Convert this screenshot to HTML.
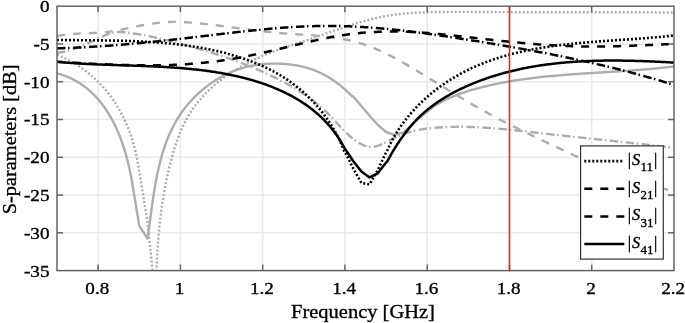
<!DOCTYPE html>
<html><head><meta charset="utf-8"><style>
html,body{margin:0;padding:0;background:#fff;}
svg{display:block;font-family:"Liberation Serif",serif;will-change:transform;}
text{stroke:#000;stroke-width:0.35px;}
</style></head><body>
<svg width="685" height="323" viewBox="0 0 685 323">
<g stroke="#e9e9e9" stroke-width="1.5"><line x1="98.13" y1="6.2" x2="98.13" y2="270.6"/><line x1="180.4" y1="6.2" x2="180.4" y2="270.6"/><line x1="262.67" y1="6.2" x2="262.67" y2="270.6"/><line x1="344.93" y1="6.2" x2="344.93" y2="270.6"/><line x1="427.2" y1="6.2" x2="427.2" y2="270.6"/><line x1="509.47" y1="6.2" x2="509.47" y2="270.6"/><line x1="591.73" y1="6.2" x2="591.73" y2="270.6"/><line x1="57.0" y1="43.97" x2="674.0" y2="43.97"/><line x1="57.0" y1="81.74" x2="674.0" y2="81.74"/><line x1="57.0" y1="119.51" x2="674.0" y2="119.51"/><line x1="57.0" y1="157.29" x2="674.0" y2="157.29"/><line x1="57.0" y1="195.06" x2="674.0" y2="195.06"/><line x1="57.0" y1="232.83" x2="674.0" y2="232.83"/></g><defs><clipPath id="c"><rect x="57.0" y="6.2" width="617.0" height="264.40000000000003"/></clipPath></defs><g clip-path="url(#c)" fill="none" stroke-linejoin="round"><polyline points="57.00,55.00 57.56,55.15 58.27,55.43 58.97,55.71 59.67,56.00 60.36,56.29 61.06,56.59 61.75,56.89 62.44,57.19 63.12,57.50 63.81,57.82 64.49,58.13 65.17,58.46 65.84,58.78 66.51,59.11 67.18,59.44 67.85,59.78 68.52,60.12 69.18,60.47 69.84,60.82 70.50,61.17 71.15,61.53 71.80,61.89 72.45,62.26 73.10,62.63 73.74,63.00 74.38,63.38 75.02,63.76 75.65,64.15 76.29,64.53 76.92,64.93 77.54,65.32 78.17,65.72 78.79,66.13 79.41,66.53 80.02,66.94 80.64,67.36 81.25,67.78 81.85,68.20 82.46,68.62 83.06,69.05 83.66,69.48 84.25,69.92 84.85,70.36 85.44,70.80 86.02,71.25 86.61,71.70 87.19,72.15 87.77,72.61 88.34,73.07 88.92,73.53 89.49,74.00 90.05,74.47 90.62,74.94 91.18,75.42 91.74,75.90 92.29,76.39 92.84,76.87 93.39,77.36 93.94,77.85 94.48,78.35 95.02,78.85 95.56,79.35 96.09,79.86 96.62,80.37 97.15,80.88 97.67,81.39 98.19,81.91 98.71,82.43 99.23,82.96 99.74,83.48 100.25,84.01 100.75,84.55 101.26,85.08 101.76,85.62 102.25,86.16 102.74,86.71 103.23,87.26 103.72,87.81 104.21,88.36 104.69,88.92 105.16,89.47 105.64,90.04 106.11,90.60 106.57,91.17 107.04,91.74 107.50,92.31 107.96,92.88 108.41,93.46 108.86,94.04 109.31,94.63 109.76,95.21 110.20,95.80 110.64,96.39 111.07,96.98 111.50,97.58 111.93,98.18 112.35,98.78 112.78,99.38 113.19,99.99 113.61,100.59 114.02,101.20 114.43,101.82 114.83,102.43 115.23,103.05 115.63,103.67 116.02,104.29 116.42,104.91 116.80,105.54 117.19,106.17 117.57,106.80 117.95,107.43 118.32,108.07 118.69,108.70 119.06,109.34 119.43,109.98 119.79,110.63 120.15,111.27 120.50,111.92 120.85,112.57 121.20,113.22 121.55,113.87 121.89,114.53 122.23,115.18 122.56,115.84 122.90,116.50 123.23,117.16 123.55,117.83 123.87,118.49 124.19,119.16 124.51,119.83 124.82,120.50 125.13,121.17 125.44,121.85 125.74,122.52 126.04,123.20 126.34,123.88 126.63,124.56 126.92,125.24 127.21,125.92 127.49,126.61 127.77,127.29 128.05,127.98 128.33,128.67 128.60,129.36 128.87,130.05 129.13,130.74 129.39,131.44 129.65,132.13 129.91,132.83 130.16,133.53 130.41,134.23 130.65,134.93 130.90,135.63 131.14,136.33 131.37,137.03 131.61,137.74 131.84,138.44 132.06,139.15 132.29,139.86 132.51,140.57 132.73,141.28 132.94,141.99 133.15,142.70 133.36,143.41 133.57,144.12 133.77,144.84 133.97,145.55 134.17,146.27 134.36,146.98 134.55,147.70 134.74,148.42 134.92,149.14 135.10,149.86 135.28,150.58 135.46,151.30 135.63,152.02 135.80,152.74 135.96,153.46 136.13,154.19 136.29,154.91 136.44,155.63 136.60,156.36 136.75,157.08 136.89,157.81 137.04,158.53 137.18,159.26 137.32,159.98 137.46,160.71 137.59,161.44 137.72,162.16 137.85,162.89 137.97,163.62 138.09,164.35 138.21,165.07 138.32,165.80 138.43,166.53 138.54,167.26 138.65,167.99 138.75,168.71 138.85,169.44 138.95,170.17 139.04,170.90 139.30,171.60 147.50,222.00 155.70,300.00 155.73,298.29 155.76,296.58 155.79,294.87 155.82,293.16 155.86,291.45 155.90,289.75 155.94,288.04 155.98,286.34 156.02,284.63 156.06,282.93 156.11,281.23 156.16,279.54 156.21,277.84 156.27,276.14 156.33,274.45 156.39,272.75 156.45,271.06 156.52,269.37 156.58,267.68 156.66,265.99 156.73,264.30 156.81,262.61 156.89,260.93 156.97,259.24 157.06,257.56 157.15,255.88 157.25,254.20 157.35,252.52 157.45,250.84 157.56,249.16 157.67,247.48 157.78,245.81 157.90,244.13 158.02,242.46 158.15,240.79 158.28,239.12 158.41,237.45 158.55,235.78 158.70,234.11 158.85,232.44 159.00,230.78 159.16,229.11 159.32,227.45 159.49,225.79 159.66,224.12 159.84,222.46 160.02,220.80 160.21,219.14 160.41,217.49 160.61,215.83 160.81,214.17 161.02,212.52 161.24,210.86 161.46,209.21 161.69,207.56 161.92,205.91 162.16,204.26 162.40,202.61 162.66,200.96 162.91,199.31 163.18,197.67 163.45,196.02 163.72,194.37 164.01,192.73 164.30,191.09 164.59,189.45 164.90,187.80 165.21,186.16 165.53,184.52 165.85,182.89 166.18,181.25 166.52,179.61 166.87,177.97 167.22,176.34 167.58,174.70 167.95,173.07 168.32,171.44 168.71,169.81 169.10,168.17 169.50,166.54 169.90,164.91 170.32,163.28 170.74,161.66 171.17,160.03 171.61,158.40 172.06,156.78 172.51,155.15 172.98,153.53 173.45,151.91 173.94,150.29 174.43,148.67 174.94,147.06 175.46,145.45 175.99,143.85 176.53,142.25 177.09,140.65 177.66,139.06 178.24,137.48 178.84,135.90 179.45,134.33 180.08,132.77 180.72,131.22 181.38,129.67 182.06,128.14 182.76,126.61 183.47,125.09 184.20,123.58 184.95,122.09 185.72,120.60 186.51,119.13 187.32,117.67 188.15,116.22 189.00,114.78 189.88,113.36 190.77,111.95 191.69,110.55 192.63,109.17 193.59,107.81 194.57,106.45 195.57,105.12 196.59,103.79 197.63,102.48 198.69,101.18 199.77,99.90 200.87,98.63 201.98,97.38 203.11,96.14 204.26,94.91 205.42,93.70 206.60,92.50 207.79,91.32 209.00,90.15 210.23,89.00 211.47,87.86 212.72,86.73 213.98,85.62 215.26,84.52 216.55,83.44 217.85,82.37 219.16,81.31 220.49,80.27 221.82,79.25 223.16,78.24 224.52,77.24 225.88,76.26 227.26,75.29 228.64,74.33 230.03,73.39 231.43,72.46 232.84,71.55 234.26,70.65 235.68,69.77 237.12,68.90 238.56,68.04 240.01,67.20 241.46,66.36 242.92,65.55 244.39,64.74 245.87,63.95 247.35,63.17 248.84,62.40 250.33,61.64 251.83,60.90 253.33,60.17 254.84,59.44 256.35,58.73 257.87,58.03 259.39,57.34 260.92,56.66 262.45,56.00 263.99,55.34 265.53,54.69 267.07,54.05 268.62,53.42 270.17,52.80 271.73,52.19 273.29,51.59 274.85,51.00 276.42,50.42 277.99,49.85 279.56,49.28 281.14,48.73 282.72,48.18 284.30,47.64 285.88,47.11 287.47,46.59 289.06,46.07 290.65,45.55 292.25,45.04 293.84,44.53 295.43,44.01 297.03,43.50 298.62,42.98 300.22,42.46 301.81,41.94 303.41,41.41 305.00,40.87 306.59,40.33 308.18,39.79 309.78,39.25 311.37,38.70 312.96,38.15 314.55,37.59 316.14,37.04 317.73,36.48 319.32,35.92 320.91,35.36 322.50,34.80 324.10,34.24 325.69,33.68 327.28,33.12 328.87,32.56 330.46,32.00 332.06,31.44 333.65,30.89 335.24,30.33 336.84,29.78 338.43,29.24 340.03,28.69 341.63,28.15 343.22,27.61 344.82,27.08 346.42,26.55 348.02,26.03 349.62,25.51 351.23,25.00 352.83,24.50 354.44,24.00 356.04,23.50 357.65,23.02 359.26,22.54 360.87,22.07 362.49,21.61 364.10,21.16 365.72,20.71 367.33,20.27 368.95,19.85 370.57,19.43 372.20,19.03 373.82,18.63 375.45,18.25 377.08,17.87 378.71,17.51 380.35,17.16 381.98,16.83 383.62,16.50 385.26,16.19 386.91,15.89 388.55,15.61 390.20,15.34 391.85,15.08 393.50,14.84 395.16,14.61 396.82,14.39 398.48,14.19 400.14,14.00 401.81,13.82 403.47,13.65 405.14,13.49 406.81,13.34 408.48,13.20 410.15,13.08 411.83,12.96 413.50,12.85 415.18,12.75 416.86,12.65 418.54,12.57 420.22,12.49 421.90,12.42 423.58,12.36 425.26,12.30 426.95,12.25 428.63,12.20 430.31,12.16 432.00,12.12 433.68,12.08 435.36,12.06 437.05,12.03 438.73,12.01 440.42,11.98 442.10,11.97 443.78,11.95 445.47,11.94 447.15,11.92 448.83,11.91 450.52,11.90 452.20,11.90 453.88,11.89 455.56,11.89 457.24,11.89 458.92,11.89 460.61,11.89 462.29,11.89 463.97,11.89 465.65,11.90 467.33,11.90 469.01,11.91 470.69,11.92 472.37,11.93 474.05,11.94 475.73,11.95 477.41,11.96 479.09,11.97 480.77,11.98 482.45,11.99 484.13,12.00 485.81,12.01 487.49,12.03 489.17,12.04 490.85,12.05 492.53,12.06 494.21,12.08 495.89,12.09 497.57,12.10 499.25,12.11 500.93,12.12 502.61,12.13 504.29,12.14 505.97,12.15 507.65,12.16 509.33,12.16 511.01,12.17 512.69,12.18 514.37,12.18 516.05,12.19 517.73,12.20 519.41,12.20 521.09,12.21 522.77,12.21 524.45,12.21 526.13,12.22 527.81,12.22 529.49,12.22 531.17,12.23 532.85,12.23 534.53,12.23 536.21,12.23 537.89,12.23 539.57,12.23 541.25,12.24 542.93,12.24 544.61,12.24 546.29,12.24 547.97,12.24 549.65,12.24 551.33,12.24 553.01,12.24 554.69,12.23 556.37,12.23 558.05,12.23 559.73,12.23 561.41,12.23 563.09,12.23 564.78,12.23 566.46,12.23 568.14,12.23 569.82,12.22 571.50,12.22 573.18,12.22 574.86,12.22 576.54,12.22 578.22,12.22 579.90,12.22 581.58,12.21 583.26,12.21 584.94,12.21 586.62,12.21 588.30,12.21 589.98,12.21 591.66,12.21 593.34,12.21 595.02,12.21 596.71,12.21 598.39,12.21 600.07,12.21 601.75,12.21 603.43,12.21 605.11,12.21 606.79,12.21 608.47,12.21 610.15,12.22 611.83,12.22 613.51,12.22 615.19,12.22 616.87,12.23 618.55,12.23 620.23,12.23 621.91,12.24 623.59,12.24 625.27,12.25 626.95,12.25 628.63,12.26 630.31,12.26 632.00,12.27 633.68,12.28 635.36,12.28 637.04,12.29 638.72,12.30 640.40,12.31 642.08,12.32 643.76,12.33 645.44,12.34 647.12,12.35 648.80,12.36 650.48,12.38 652.16,12.39 653.84,12.40 655.52,12.42 657.20,12.43 658.88,12.45 660.56,12.46 662.24,12.48 663.92,12.50 665.60,12.52 667.28,12.54 668.96,12.56 670.64,12.58 672.32,12.60 674.00,12.60" stroke="#adadad" stroke-width="2.4" stroke-dasharray="2 2"/><polyline points="57.00,73.40 57.34,73.43 58.07,73.63 58.79,73.83 59.51,74.04 60.23,74.25 60.94,74.47 61.64,74.70 62.35,74.93 63.04,75.16 63.74,75.41 64.43,75.65 65.11,75.91 65.79,76.17 66.47,76.43 67.14,76.70 67.81,76.98 68.47,77.26 69.13,77.54 69.79,77.84 70.44,78.13 71.08,78.44 71.72,78.74 72.36,79.06 73.00,79.38 73.63,79.70 74.25,80.03 74.87,80.36 75.49,80.70 76.10,81.04 76.71,81.39 77.32,81.75 77.92,82.11 78.51,82.47 79.11,82.84 79.70,83.21 80.28,83.59 80.86,83.97 81.44,84.36 82.01,84.75 82.58,85.15 83.14,85.55 83.70,85.95 84.26,86.36 84.81,86.78 85.36,87.20 85.91,87.62 86.45,88.05 86.99,88.48 87.52,88.92 88.05,89.36 88.58,89.80 89.10,90.25 89.62,90.70 90.13,91.16 90.64,91.62 91.15,92.09 91.65,92.56 92.15,93.03 92.65,93.51 93.14,93.99 93.63,94.47 94.12,94.96 94.60,95.45 95.07,95.95 95.55,96.45 96.02,96.95 96.49,97.46 96.95,97.97 97.41,98.48 97.86,99.00 98.32,99.52 98.77,100.04 99.21,100.57 99.65,101.10 100.09,101.63 100.53,102.17 100.96,102.71 101.39,103.25 101.81,103.80 102.23,104.35 102.65,104.90 103.06,105.46 103.48,106.02 103.88,106.58 104.29,107.15 104.69,107.71 105.09,108.28 105.48,108.86 105.87,109.43 106.26,110.01 106.64,110.59 107.03,111.18 107.40,111.76 107.78,112.35 108.15,112.95 108.52,113.54 108.88,114.14 109.25,114.74 109.60,115.34 109.96,115.94 110.31,116.55 110.66,117.16 111.01,117.77 111.35,118.38 111.69,119.00 112.03,119.61 112.36,120.23 112.69,120.85 113.02,121.48 113.35,122.10 113.67,122.73 113.99,123.36 114.30,123.99 114.62,124.62 114.93,125.26 115.23,125.89 115.54,126.53 115.84,127.17 116.14,127.81 116.43,128.46 116.72,129.10 117.01,129.75 117.30,130.40 117.58,131.05 117.87,131.70 118.14,132.35 118.42,133.00 118.69,133.66 118.96,134.31 119.23,134.97 119.50,135.63 119.76,136.29 120.02,136.95 120.27,137.61 120.53,138.27 120.78,138.93 121.03,139.60 121.27,140.27 121.52,140.93 121.76,141.60 122.00,142.27 122.23,142.94 122.46,143.61 122.69,144.28 122.92,144.95 123.15,145.62 123.37,146.29 123.59,146.96 123.81,147.64 124.02,148.31 124.24,148.99 124.45,149.66 124.65,150.33 124.86,151.01 125.06,151.69 125.26,152.36 125.46,153.04 125.66,153.71 125.85,154.39 126.04,155.07 126.23,155.74 126.42,156.42 126.60,157.10 126.79,157.77 126.97,158.45 127.14,159.13 127.32,159.80 127.49,160.48 127.66,161.15 127.83,161.83 128.00,162.50 128.16,163.18 128.32,163.85 128.48,164.53 128.64,165.20 128.80,165.87 128.95,166.55 129.10,167.22 129.25,167.89 129.40,168.56 129.55,169.23 129.69,169.90 129.83,170.57 129.97,171.24 130.11,171.90 130.24,172.57 130.38,173.23 130.51,173.90 130.64,174.56 130.76,175.22 131.10,176.00 139.30,225.80 147.50,238.50 147.60,237.65 147.72,236.85 147.84,236.04 147.96,235.23 148.08,234.41 148.20,233.60 148.32,232.78 148.44,231.96 148.56,231.14 148.67,230.32 148.79,229.50 148.90,228.68 149.02,227.85 149.13,227.02 149.25,226.19 149.36,225.36 149.47,224.53 149.59,223.69 149.70,222.86 149.81,222.02 149.93,221.19 150.04,220.35 150.15,219.51 150.27,218.67 150.38,217.82 150.49,216.98 150.61,216.14 150.72,215.29 150.84,214.44 150.95,213.60 151.06,212.75 151.18,211.90 151.30,211.05 151.41,210.20 151.53,209.34 151.65,208.49 151.76,207.64 151.88,206.78 152.00,205.93 152.12,205.07 152.24,204.22 152.36,203.36 152.49,202.50 152.61,201.65 152.73,200.79 152.86,199.93 152.99,199.07 153.11,198.21 153.24,197.35 153.37,196.49 153.50,195.63 153.64,194.77 153.77,193.91 153.90,193.05 154.04,192.19 154.18,191.33 154.32,190.47 154.46,189.61 154.60,188.75 154.75,187.89 154.89,187.02 155.04,186.16 155.19,185.30 155.34,184.44 155.49,183.58 155.65,182.72 155.80,181.86 155.96,181.01 156.12,180.15 156.29,179.29 156.45,178.43 156.62,177.57 156.79,176.72 156.96,175.86 157.13,175.01 157.31,174.15 157.49,173.30 157.67,172.44 157.85,171.59 158.04,170.74 158.23,169.89 158.42,169.04 158.61,168.19 158.81,167.34 159.01,166.49 159.21,165.64 159.41,164.80 159.62,163.95 159.83,163.11 160.04,162.27 160.26,161.43 160.48,160.58 160.70,159.75 160.93,158.91 161.15,158.07 161.39,157.24 161.62,156.40 161.86,155.57 162.10,154.74 162.35,153.91 162.59,153.08 162.85,152.25 163.10,151.43 163.36,150.61 163.62,149.78 163.89,148.96 164.16,148.15 164.43,147.33 164.71,146.51 164.99,145.70 165.28,144.89 165.56,144.08 165.86,143.27 166.15,142.47 166.45,141.66 166.76,140.86 167.07,140.06 167.38,139.27 167.70,138.47 168.02,137.68 168.35,136.89 168.68,136.10 169.01,135.31 169.35,134.53 169.69,133.74 170.04,132.97 170.39,132.19 170.75,131.41 171.11,130.64 171.48,129.87 171.85,129.10 172.23,128.34 172.61,127.58 172.99,126.82 173.38,126.06 173.78,125.31 174.18,124.56 174.59,123.81 175.00,123.06 175.41,122.32 175.83,121.58 176.26,120.84 176.69,120.11 177.13,119.38 177.57,118.65 178.02,117.92 178.47,117.20 178.93,116.48 179.39,115.77 179.86,115.05 180.33,114.35 180.81,113.64 181.30,112.94 181.79,112.24 182.29,111.54 182.79,110.85 183.29,110.16 183.81,109.47 184.32,108.79 184.84,108.11 185.37,107.44 185.90,106.77 186.44,106.10 186.98,105.44 187.53,104.78 188.08,104.12 188.64,103.47 189.20,102.82 189.76,102.18 190.34,101.53 190.91,100.90 191.49,100.27 192.08,99.64 192.67,99.01 193.26,98.39 193.86,97.78 194.46,97.17 195.07,96.56 195.68,95.95 196.30,95.36 196.92,94.76 197.55,94.17 198.18,93.59 198.81,93.01 199.45,92.43 200.09,91.86 200.74,91.29 201.39,90.73 202.04,90.17 202.70,89.62 203.36,89.07 204.03,88.52 204.70,87.99 205.37,87.45 206.05,86.92 206.73,86.40 207.42,85.88 208.11,85.37 208.80,84.86 209.50,84.35 210.20,83.85 210.90,83.36 211.61,82.87 212.32,82.39 213.04,81.91 213.76,81.44 214.48,80.97 215.20,80.51 215.93,80.06 216.66,79.60 217.40,79.16 218.14,78.72 218.88,78.29 219.62,77.86 220.37,77.44 221.12,77.02 221.88,76.61 222.63,76.20 223.39,75.80 224.16,75.41 224.92,75.02 225.69,74.64 226.46,74.27 227.24,73.90 228.02,73.53 228.80,73.18 229.58,72.83 230.36,72.48 231.15,72.14 231.94,71.81 232.74,71.48 233.53,71.16 234.33,70.85 235.13,70.54 235.93,70.24 236.74,69.95 237.55,69.66 238.36,69.38 239.17,69.11 239.98,68.84 240.80,68.58 241.62,68.32 242.44,68.07 243.27,67.83 244.09,67.60 244.92,67.37 245.75,67.15 246.58,66.94 247.41,66.73 248.25,66.53 249.09,66.34 249.92,66.16 250.76,65.98 251.61,65.80 252.45,65.64 253.29,65.48 254.14,65.33 254.99,65.18 255.84,65.04 256.69,64.91 257.54,64.78 258.39,64.67 259.25,64.55 260.10,64.45 260.96,64.34 261.82,64.25 262.67,64.16 263.53,64.08 264.39,64.01 265.25,63.94 266.11,63.88 266.98,63.82 267.84,63.77 268.70,63.72 269.56,63.69 270.43,63.65 271.29,63.63 272.15,63.61 273.02,63.59 273.88,63.58 274.75,63.58 275.61,63.59 276.48,63.59 277.34,63.61 278.21,63.63 279.07,63.66 279.93,63.69 280.80,63.73 281.66,63.77 282.53,63.82 283.39,63.87 284.25,63.93 285.11,64.00 285.97,64.07 286.83,64.15 287.69,64.23 288.55,64.32 289.41,64.41 290.27,64.51 291.12,64.61 291.98,64.73 292.83,64.84 293.68,64.97 294.53,65.10 295.38,65.23 296.23,65.37 297.08,65.52 297.92,65.68 298.76,65.84 299.61,66.01 300.44,66.18 301.28,66.37 302.12,66.56 302.95,66.75 303.78,66.95 304.61,67.17 305.43,67.38 306.26,67.61 307.08,67.84 307.89,68.08 308.71,68.33 309.52,68.59 310.33,68.85 311.14,69.12 311.94,69.40 312.74,69.69 313.54,69.98 314.33,70.28 315.13,70.59 315.91,70.91 316.70,71.24 317.48,71.57 318.26,71.91 319.04,72.26 319.81,72.61 320.58,72.98 321.34,73.35 322.11,73.72 322.87,74.11 323.62,74.50 324.37,74.90 325.12,75.30 325.87,75.71 326.61,76.13 327.35,76.56 328.09,76.99 328.82,77.43 329.55,77.87 330.27,78.33 331.00,78.79 331.72,79.25 332.43,79.72 333.14,80.20 333.85,80.68 334.55,81.17 335.26,81.67 335.95,82.17 336.65,82.68 337.34,83.19 338.02,83.71 338.71,84.24 339.39,84.77 340.06,85.31 340.73,85.85 341.40,86.40 342.07,86.95 342.73,87.51 343.39,88.07 344.05,88.63 344.70,89.20 345.35,89.78 345.99,90.36 346.63,90.94 347.27,91.53 347.91,92.12 348.54,92.72 349.17,93.32 349.80,93.92 350.42,94.53 351.04,95.14 351.66,95.75 352.27,96.37 353.20,96.50 361.40,106.00 369.60,115.80 377.80,124.80 386.10,132.00 394.30,134.80 402.50,132.80 403.61,132.32 404.50,131.53 405.38,130.75 406.27,129.95 407.15,129.15 408.04,128.35 408.92,127.54 409.81,126.73 410.69,125.92 411.58,125.10 412.47,124.29 413.36,123.47 414.25,122.65 415.14,121.84 416.03,121.02 416.93,120.21 417.83,119.40 418.73,118.59 419.64,117.79 420.55,116.99 421.46,116.19 422.38,115.40 423.30,114.62 424.23,113.84 425.16,113.07 426.10,112.31 427.04,111.56 427.99,110.82 428.94,110.09 429.90,109.37 430.87,108.66 431.84,107.96 432.82,107.28 433.81,106.60 434.81,105.95 435.81,105.30 436.82,104.67 437.84,104.05 438.86,103.44 439.90,102.85 440.93,102.26 441.98,101.69 443.03,101.13 444.08,100.58 445.14,100.05 446.21,99.52 447.28,99.00 448.36,98.50 449.44,98.00 450.53,97.52 451.62,97.04 452.72,96.58 453.82,96.12 454.93,95.67 456.04,95.23 457.15,94.80 458.27,94.38 459.39,93.97 460.52,93.56 461.65,93.17 462.78,92.78 463.91,92.40 465.05,92.02 466.19,91.65 467.33,91.29 468.48,90.94 469.63,90.59 470.77,90.24 471.93,89.91 473.08,89.57 474.23,89.25 475.39,88.93 476.54,88.61 477.70,88.30 478.86,87.99 480.02,87.69 481.18,87.39 482.34,87.10 483.50,86.81 484.67,86.53 485.83,86.24 486.99,85.97 488.16,85.70 489.33,85.43 490.49,85.16 491.66,84.90 492.83,84.65 494.00,84.39 495.17,84.15 496.34,83.90 497.51,83.66 498.68,83.42 499.85,83.19 501.03,82.96 502.20,82.73 503.38,82.51 504.55,82.29 505.73,82.08 506.91,81.87 508.08,81.66 509.26,81.45 510.44,81.25 511.62,81.05 512.80,80.86 513.98,80.66 515.16,80.48 516.34,80.29 517.52,80.11 518.71,79.93 519.89,79.75 521.08,79.58 522.26,79.41 523.44,79.24 524.63,79.07 525.82,78.91 527.00,78.75 528.19,78.60 529.38,78.44 530.57,78.29 531.75,78.14 532.94,77.99 534.13,77.85 535.32,77.71 536.51,77.57 537.70,77.43 538.89,77.30 540.09,77.17 541.28,77.04 542.47,76.91 543.66,76.78 544.86,76.66 546.05,76.54 547.24,76.42 548.44,76.30 549.63,76.18 550.83,76.07 552.02,75.96 553.22,75.85 554.41,75.74 555.61,75.63 556.80,75.53 558.00,75.43 559.20,75.32 560.39,75.22 561.59,75.13 562.79,75.03 563.99,74.93 565.18,74.84 566.38,74.74 567.58,74.65 568.78,74.56 569.98,74.47 571.18,74.38 572.38,74.30 573.57,74.21 574.77,74.13 575.97,74.04 577.17,73.96 578.37,73.88 579.57,73.79 580.77,73.71 581.97,73.63 583.17,73.56 584.37,73.48 585.57,73.40 586.77,73.32 587.97,73.25 589.17,73.17 590.37,73.09 591.57,73.02 592.77,72.94 593.97,72.87 595.17,72.79 596.37,72.72 597.57,72.65 598.77,72.57 599.97,72.50 601.17,72.43 602.37,72.35 603.57,72.28 604.77,72.21 605.97,72.13 607.17,72.06 608.37,71.99 609.57,71.91 610.77,71.84 611.97,71.76 613.17,71.69 614.37,71.61 615.57,71.54 616.77,71.46 617.96,71.38 619.16,71.31 620.36,71.23 621.56,71.15 622.76,71.07 623.95,70.99 625.15,70.91 626.35,70.83 627.54,70.75 628.74,70.66 629.94,70.58 631.13,70.50 632.33,70.41 633.52,70.32 634.72,70.23 635.91,70.14 637.10,70.05 638.30,69.96 639.49,69.87 640.69,69.77 641.88,69.68 643.07,69.58 644.26,69.48 645.45,69.38 646.65,69.28 647.84,69.18 649.03,69.07 650.22,68.96 651.41,68.86 652.60,68.75 653.78,68.63 654.97,68.52 656.16,68.40 657.35,68.29 658.53,68.17 659.72,68.05 660.91,67.92 662.09,67.80 663.28,67.67 664.46,67.54 665.64,67.41 666.83,67.27 668.01,67.13 669.19,66.99 670.37,66.85 671.55,66.71 672.73,66.56 674.00,66.80" stroke="#adadad" stroke-width="2.4"/><polyline points="57.00,36.00 58.42,35.80 59.84,35.56 61.26,35.33 62.68,35.11 64.11,34.92 65.53,34.73 66.96,34.56 68.39,34.41 69.82,34.27 71.26,34.13 72.69,34.01 74.13,33.90 75.56,33.80 77.00,33.70 78.44,33.62 79.88,33.54 81.32,33.46 82.76,33.39 84.20,33.32 85.64,33.26 87.08,33.20 88.52,33.14 89.96,33.08 91.40,33.02 92.84,32.96 94.28,32.90 95.71,32.83 97.15,32.76 98.58,32.68 100.02,32.59 101.45,32.50 102.88,32.39 104.31,32.27 105.73,32.13 107.16,31.98 108.58,31.81 109.99,31.62 111.41,31.41 112.82,31.18 114.23,30.93 115.64,30.68 117.05,30.41 118.45,30.13 119.86,29.85 121.27,29.56 122.67,29.27 124.08,28.98 125.48,28.68 126.89,28.39 128.30,28.10 129.70,27.80 131.11,27.51 132.52,27.21 133.93,26.92 135.33,26.64 136.74,26.35 138.15,26.07 139.56,25.79 140.97,25.52 142.38,25.25 143.80,24.99 145.21,24.74 146.62,24.49 148.04,24.25 149.45,24.01 150.87,23.79 152.29,23.58 153.70,23.37 155.12,23.18 156.55,22.99 157.97,22.82 159.39,22.66 160.82,22.52 162.24,22.38 163.67,22.26 165.10,22.16 166.53,22.07 167.96,21.99 169.40,21.93 170.83,21.89 172.27,21.86 173.70,21.85 175.14,21.85 176.58,21.86 178.02,21.88 179.47,21.92 180.91,21.97 182.35,22.03 183.79,22.10 185.24,22.18 186.68,22.27 188.12,22.37 189.57,22.47 191.01,22.59 192.45,22.71 193.89,22.83 195.34,22.96 196.78,23.10 198.22,23.24 199.65,23.39 201.09,23.54 202.53,23.69 203.96,23.85 205.40,24.01 206.83,24.17 208.26,24.34 209.69,24.50 211.12,24.67 212.55,24.84 213.98,25.02 215.41,25.19 216.84,25.37 218.26,25.55 219.69,25.73 221.11,25.91 222.54,26.10 223.96,26.28 225.39,26.47 226.81,26.66 228.23,26.84 229.65,27.03 231.08,27.22 232.50,27.41 233.92,27.60 235.34,27.79 236.76,27.98 238.18,28.17 239.60,28.36 241.02,28.54 242.44,28.73 243.86,28.92 245.29,29.11 246.71,29.29 248.13,29.48 249.55,29.66 250.97,29.84 252.39,30.02 253.81,30.20 255.24,30.38 256.66,30.55 258.08,30.72 259.51,30.89 260.93,31.06 262.36,31.23 263.78,31.39 265.21,31.55 266.64,31.71 268.06,31.86 269.49,32.02 270.92,32.16 272.35,32.31 273.78,32.45 275.21,32.59 276.65,32.72 278.08,32.85 279.52,32.98 280.95,33.10 282.39,33.22 283.83,33.33 285.27,33.44 286.71,33.55 288.15,33.66 289.59,33.76 291.03,33.86 292.48,33.96 293.92,34.06 295.36,34.15 296.81,34.25 298.25,34.34 299.69,34.44 301.14,34.53 302.58,34.63 304.02,34.73 305.47,34.83 306.91,34.93 308.35,35.03 309.79,35.13 311.24,35.24 312.68,35.35 314.12,35.47 315.55,35.58 316.99,35.70 318.43,35.83 319.87,35.96 321.30,36.10 322.73,36.24 324.16,36.38 325.60,36.54 327.02,36.70 328.45,36.86 329.88,37.04 331.30,37.22 332.72,37.40 334.14,37.60 335.56,37.80 336.97,38.02 338.39,38.24 339.80,38.47 341.21,38.71 342.61,38.96 344.02,39.23 345.42,39.50 346.82,39.78 348.21,40.08 349.60,40.39 350.99,40.71 352.38,41.04 353.76,41.38 355.14,41.74 356.52,42.11 357.89,42.49 359.26,42.89 360.63,43.31 361.99,43.73 363.35,44.18 364.70,44.63 366.05,45.10 367.40,45.58 368.75,46.07 370.09,46.58 371.42,47.10 372.76,47.63 374.09,48.17 375.42,48.72 376.74,49.28 378.06,49.85 379.37,50.43 380.69,51.03 382.00,51.63 383.30,52.24 384.60,52.86 385.90,53.49 387.20,54.12 388.49,54.76 389.78,55.42 391.06,56.07 392.34,56.74 393.62,57.41 394.90,58.09 396.17,58.77 397.43,59.46 398.70,60.16 399.96,60.85 401.22,61.56 402.47,62.27 403.72,62.98 404.97,63.69 406.21,64.41 407.45,65.14 408.69,65.86 409.93,66.59 411.16,67.32 412.39,68.06 413.62,68.79 414.84,69.53 416.07,70.27 417.29,71.01 418.51,71.76 419.73,72.50 420.95,73.25 422.17,74.00 423.38,74.75 424.60,75.50 425.81,76.26 427.03,77.01 428.25,77.76 429.46,78.52 430.68,79.27 431.90,80.03 433.11,80.78 434.33,81.54 435.55,82.29 436.77,83.05 437.99,83.80 439.21,84.55 440.43,85.31 441.65,86.06 442.88,86.81 444.10,87.57 445.32,88.32 446.55,89.07 447.78,89.82 449.00,90.57 450.23,91.32 451.46,92.07 452.69,92.81 453.92,93.56 455.15,94.30 456.38,95.04 457.62,95.79 458.85,96.53 460.08,97.26 461.32,98.00 462.56,98.74 463.80,99.47 465.04,100.20 466.28,100.93 467.52,101.66 468.76,102.39 470.00,103.11 471.25,103.84 472.50,104.56 473.74,105.27 474.99,105.99 476.24,106.70 477.49,107.41 478.75,108.12 480.00,108.83 481.26,109.53 482.51,110.23 483.77,110.93 485.03,111.62 486.29,112.32 487.55,113.01 488.82,113.69 490.08,114.37 491.35,115.05 492.61,115.73 493.88,116.41 495.15,117.08 496.42,117.75 497.70,118.42 498.97,119.08 500.24,119.74 501.52,120.40 502.80,121.06 504.08,121.72 505.35,122.37 506.63,123.02 507.92,123.67 509.20,124.32 510.48,124.96 511.77,125.60 513.05,126.25 514.34,126.88 515.62,127.52 516.91,128.16 518.20,128.79 519.49,129.42 520.78,130.06 522.07,130.69 523.36,131.31 524.65,131.94 525.94,132.57 527.24,133.19 528.53,133.81 529.83,134.44 531.12,135.06 532.42,135.68 533.71,136.29 535.01,136.91 536.31,137.53 537.60,138.15 538.90,138.76 540.20,139.38 541.50,139.99 542.80,140.60 544.10,141.22 545.40,141.83 546.70,142.44 548.00,143.05 549.30,143.66 550.60,144.27 551.90,144.89 553.20,145.50 554.50,146.11 555.80,146.72 557.10,147.33 558.40,147.94 559.71,148.55 561.01,149.16 562.31,149.77 563.61,150.38 564.91,150.99 566.21,151.60 567.52,152.21 568.82,152.82 570.12,153.43 571.42,154.04 572.73,154.64 574.03,155.25 575.33,155.85 576.64,156.46 577.94,157.06 579.25,157.66 580.55,158.26 581.86,158.86 583.17,159.46 584.48,160.05 585.78,160.65 587.09,161.24 588.40,161.83 589.71,162.42 591.03,163.00 592.34,163.59 593.65,164.17 594.97,164.75 596.28,165.32 597.60,165.90 598.92,166.47 600.24,167.04 601.55,167.60 602.88,168.16 604.20,168.72 605.52,169.28 606.85,169.83 608.17,170.38 609.50,170.93 610.83,171.47 612.16,172.01 613.49,172.55 614.82,173.08 616.15,173.61 617.49,174.13 618.83,174.65 620.17,175.16 621.51,175.68 622.85,176.18 624.19,176.68 625.54,177.18 626.89,177.67 628.24,178.16 629.59,178.65 630.94,179.12 632.30,179.60 633.65,180.07 635.01,180.53 636.37,180.99 637.74,181.44 639.10,181.89 640.47,182.33 641.84,182.76 643.21,183.19 644.58,183.62 645.96,184.03 647.34,184.45 648.72,184.85 650.10,185.25 651.49,185.64 652.87,186.03 654.26,186.41 655.66,186.78 657.05,187.15 658.45,187.51 659.85,187.86 661.25,188.21 662.66,188.55 664.07,188.88 665.48,189.20 666.89,189.52 668.31,189.83 669.73,190.13 671.15,190.42 672.58,190.71 674.00,191.00" stroke="#adadad" stroke-width="2.4" stroke-dasharray="8 8"/><polyline points="57.00,53.00 57.96,52.67 58.95,52.56 59.93,52.44 60.92,52.30 61.90,52.14 62.88,51.97 63.85,51.78 64.83,51.58 65.80,51.36 66.77,51.13 67.73,50.88 68.69,50.63 69.65,50.35 70.61,50.07 71.56,49.77 72.52,49.47 73.47,49.15 74.41,48.82 75.36,48.48 76.30,48.14 77.24,47.78 78.18,47.42 79.12,47.05 80.05,46.67 80.99,46.28 81.92,45.89 82.85,45.49 83.78,45.09 84.70,44.68 85.63,44.27 86.55,43.85 87.47,43.43 88.39,43.01 89.31,42.59 90.23,42.16 91.14,41.73 92.06,41.30 92.97,40.87 93.88,40.44 94.79,40.01 95.70,39.59 96.61,39.16 97.52,38.74 98.42,38.31 99.33,37.90 100.24,37.48 101.14,37.07 102.04,36.66 102.95,36.26 103.85,35.87 104.75,35.48 105.65,35.09 106.56,34.72 107.46,34.35 108.36,34.00 109.27,33.66 110.17,33.35 111.08,33.06 112.00,32.79 112.92,32.56 113.84,32.36 114.77,32.20 115.71,32.07 116.65,31.99 117.61,31.96 118.57,31.97 119.53,32.01 120.50,32.07 121.47,32.14 122.44,32.22 123.42,32.30 124.39,32.39 125.36,32.48 126.33,32.58 127.31,32.69 128.28,32.80 129.25,32.91 130.23,33.03 131.20,33.16 132.18,33.28 133.15,33.42 134.13,33.56 135.10,33.70 136.08,33.85 137.05,34.00 138.03,34.15 139.00,34.31 139.98,34.48 140.96,34.65 141.93,34.82 142.91,34.99 143.89,35.17 144.86,35.35 145.84,35.54 146.82,35.73 147.79,35.92 148.77,36.12 149.75,36.32 150.72,36.52 151.70,36.73 152.68,36.94 153.65,37.15 154.63,37.36 155.60,37.58 156.58,37.80 157.56,38.02 158.53,38.24 159.51,38.47 160.48,38.70 161.46,38.93 162.44,39.16 163.41,39.40 164.38,39.64 165.36,39.88 166.33,40.12 167.31,40.36 168.28,40.60 169.25,40.85 170.23,41.09 171.20,41.34 172.17,41.59 173.14,41.84 174.12,42.09 175.09,42.34 176.06,42.60 177.03,42.85 178.00,43.10 178.97,43.36 179.94,43.62 180.90,43.87 181.87,44.13 182.84,44.39 183.81,44.65 184.77,44.91 185.74,45.18 186.71,45.44 187.67,45.70 188.63,45.97 189.60,46.24 190.56,46.51 191.53,46.77 192.49,47.04 193.45,47.32 194.41,47.59 195.37,47.86 196.33,48.14 197.29,48.41 198.25,48.69 199.21,48.97 200.17,49.25 201.13,49.53 202.09,49.82 203.04,50.10 204.00,50.39 204.95,50.67 205.91,50.96 206.86,51.25 207.82,51.54 208.77,51.83 209.72,52.13 210.67,52.42 211.63,52.72 212.58,53.02 213.53,53.32 214.48,53.62 215.42,53.92 216.37,54.23 217.32,54.54 218.27,54.84 219.21,55.15 220.16,55.47 221.10,55.78 222.05,56.09 222.99,56.41 223.93,56.73 224.88,57.05 225.82,57.37 226.76,57.69 227.70,58.02 228.64,58.35 229.58,58.67 230.51,59.00 231.45,59.34 232.39,59.67 233.32,60.01 234.26,60.35 235.19,60.69 236.13,61.03 237.06,61.37 237.99,61.72 238.92,62.07 239.85,62.42 240.78,62.77 241.71,63.12 242.64,63.48 243.57,63.84 244.49,64.20 245.42,64.56 246.34,64.93 247.27,65.29 248.19,65.66 249.11,66.03 250.03,66.41 250.96,66.78 251.88,67.16 252.79,67.54 253.71,67.92 254.63,68.31 255.55,68.69 256.46,69.08 257.38,69.48 258.29,69.87 259.20,70.27 260.12,70.67 261.03,71.07 261.94,71.47 262.85,71.88 263.76,72.28 264.66,72.70 265.57,73.11 266.48,73.53 267.38,73.94 268.28,74.37 269.19,74.79 270.09,75.22 270.99,75.64 271.89,76.08 272.79,76.51 273.69,76.95 274.58,77.39 275.48,77.83 276.37,78.27 277.27,78.72 278.16,79.17 279.05,79.63 279.94,80.08 280.83,80.54 281.71,81.01 282.60,81.47 283.48,81.94 284.36,82.41 285.24,82.89 286.12,83.37 286.99,83.85 287.86,84.33 288.74,84.82 289.61,85.31 290.47,85.81 291.34,86.31 292.20,86.81 293.06,87.31 293.92,87.82 294.78,88.34 295.63,88.85 296.48,89.37 297.33,89.90 298.18,90.42 299.02,90.95 299.86,91.49 300.70,92.03 301.54,92.57 302.37,93.12 303.20,93.67 304.02,94.22 304.85,94.78 305.67,95.34 306.49,95.91 307.30,96.48 308.11,97.05 308.92,97.63 309.73,98.21 310.53,98.80 311.33,99.39 312.12,99.99 312.91,100.59 313.70,101.19 314.49,101.80 315.27,102.42 316.04,103.03 316.82,103.66 317.59,104.28 318.35,104.92 319.12,105.55 319.87,106.19 320.63,106.84 321.38,107.49 322.12,108.15 322.86,108.81 323.60,109.47 324.33,110.14 325.06,110.82 325.79,111.50 326.51,112.18 327.22,112.87 327.93,113.57 328.64,114.27 329.34,114.97 330.04,115.68 330.73,116.40 331.42,117.12 332.11,117.84 332.79,118.57 333.47,119.29 334.15,120.03 334.83,120.76 335.51,121.49 336.19,122.23 336.87,122.97 337.54,123.70 338.22,124.44 338.90,125.17 339.59,125.91 340.27,126.64 340.96,127.37 341.65,128.10 342.34,128.83 343.04,129.55 343.74,130.27 344.45,130.98 345.16,131.69 345.88,132.40 346.61,133.10 347.34,133.79 348.08,134.48 348.83,135.16 349.58,135.83 350.34,136.50 351.12,137.15 351.90,137.80 352.69,138.44 353.49,139.08 354.31,139.70 355.13,140.31 355.96,140.90 356.81,141.48 357.66,142.04 358.52,142.58 359.38,143.10 360.26,143.59 361.14,144.06 362.03,144.50 362.93,144.91 363.83,145.28 364.74,145.62 365.65,145.92 366.57,146.18 367.49,146.41 368.42,146.58 369.35,146.72 370.28,146.80 371.21,146.84 372.15,146.82 373.09,146.75 374.03,146.63 374.97,146.47 375.91,146.26 376.85,146.01 377.79,145.73 378.73,145.41 379.67,145.06 380.62,144.68 381.56,144.28 382.49,143.86 383.43,143.42 384.37,142.96 385.30,142.50 386.23,142.02 387.16,141.54 388.09,141.05 389.01,140.57 389.93,140.08 390.84,139.61 391.75,139.14 392.66,138.68 393.57,138.23 394.47,137.78 395.38,137.35 396.28,136.92 397.19,136.51 398.10,136.10 399.00,135.71 399.91,135.32 400.83,134.95 401.74,134.58 402.67,134.23 403.59,133.89 404.52,133.57 405.46,133.25 406.40,132.94 407.34,132.65 408.28,132.36 409.23,132.09 410.19,131.83 411.14,131.57 412.10,131.33 413.07,131.09 414.03,130.86 415.00,130.65 415.97,130.44 416.95,130.24 417.92,130.04 418.90,129.86 419.88,129.68 420.86,129.52 421.85,129.35 422.84,129.20 423.82,129.05 424.81,128.91 425.80,128.78 426.80,128.65 427.79,128.52 428.78,128.41 429.78,128.30 430.78,128.19 431.77,128.09 432.77,127.99 433.77,127.90 434.76,127.81 435.76,127.73 436.76,127.65 437.76,127.57 438.75,127.50 439.75,127.43 440.75,127.37 441.74,127.31 442.74,127.25 443.74,127.20 444.74,127.15 445.73,127.10 446.73,127.06 447.73,127.02 448.72,126.98 449.72,126.95 450.72,126.92 451.71,126.90 452.71,126.87 453.71,126.85 454.70,126.84 455.70,126.83 456.70,126.82 457.69,126.81 458.69,126.80 459.68,126.80 460.68,126.81 461.68,126.81 462.67,126.82 463.67,126.83 464.66,126.84 465.66,126.86 466.66,126.88 467.65,126.90 468.65,126.92 469.64,126.95 470.64,126.98 471.63,127.01 472.63,127.05 473.62,127.09 474.62,127.12 475.61,127.17 476.61,127.21 477.60,127.26 478.60,127.31 479.59,127.36 480.59,127.41 481.58,127.47 482.58,127.52 483.57,127.58 484.57,127.64 485.56,127.71 486.56,127.77 487.55,127.84 488.55,127.91 489.54,127.98 490.54,128.05 491.53,128.13 492.53,128.20 493.52,128.28 494.51,128.36 495.51,128.44 496.50,128.53 497.50,128.61 498.49,128.70 499.48,128.78 500.48,128.87 501.47,128.96 502.47,129.05 503.46,129.15 504.45,129.24 505.45,129.33 506.44,129.43 507.44,129.53 508.43,129.63 509.42,129.73 510.42,129.83 511.41,129.93 512.40,130.03 513.40,130.14 514.39,130.24 515.38,130.34 516.38,130.45 517.37,130.56 518.36,130.66 519.36,130.77 520.35,130.88 521.34,130.99 522.34,131.10 523.33,131.21 524.32,131.32 525.32,131.43 526.31,131.55 527.30,131.66 528.29,131.77 529.29,131.88 530.28,132.00 531.27,132.11 532.26,132.22 533.26,132.34 534.25,132.45 535.24,132.56 536.24,132.68 537.23,132.79 538.22,132.90 539.21,133.02 540.21,133.13 541.20,133.24 542.19,133.36 543.18,133.47 544.17,133.58 545.17,133.69 546.16,133.81 547.15,133.92 548.14,134.03 549.14,134.14 550.13,134.25 551.12,134.36 552.11,134.47 553.10,134.58 554.10,134.69 555.09,134.80 556.08,134.91 557.07,135.02 558.06,135.13 559.06,135.23 560.05,135.34 561.04,135.45 562.03,135.56 563.02,135.67 564.01,135.77 565.01,135.88 566.00,135.99 566.99,136.10 567.98,136.20 568.97,136.31 569.96,136.42 570.96,136.52 571.95,136.63 572.94,136.73 573.93,136.84 574.92,136.95 575.91,137.05 576.90,137.16 577.90,137.26 578.89,137.37 579.88,137.47 580.87,137.58 581.86,137.68 582.85,137.79 583.84,137.89 584.84,138.00 585.83,138.10 586.82,138.21 587.81,138.31 588.80,138.42 589.79,138.52 590.78,138.63 591.77,138.73 592.76,138.83 593.76,138.94 594.75,139.04 595.74,139.15 596.73,139.25 597.72,139.36 598.71,139.46 599.70,139.57 600.69,139.67 601.69,139.77 602.68,139.88 603.67,139.98 604.66,140.09 605.65,140.19 606.64,140.30 607.63,140.40 608.62,140.51 609.61,140.61 610.61,140.72 611.60,140.82 612.59,140.93 613.58,141.03 614.57,141.14 615.56,141.24 616.55,141.35 617.54,141.45 618.53,141.56 619.52,141.67 620.52,141.77 621.51,141.88 622.50,141.99 623.49,142.09 624.48,142.20 625.47,142.31 626.46,142.41 627.45,142.52 628.44,142.63 629.44,142.73 630.43,142.84 631.42,142.95 632.41,143.06 633.40,143.17 634.39,143.27 635.38,143.38 636.37,143.49 637.36,143.60 638.36,143.71 639.35,143.82 640.34,143.93 641.33,144.04 642.32,144.15 643.31,144.26 644.30,144.37 645.29,144.48 646.29,144.60 647.28,144.71 648.27,144.82 649.26,144.93 650.25,145.04 651.24,145.16 652.23,145.27 653.22,145.38 654.22,145.50 655.21,145.61 656.20,145.73 657.19,145.84 658.18,145.96 659.17,146.07 660.16,146.19 661.16,146.31 662.15,146.42 663.14,146.54 664.13,146.66 665.12,146.78 666.11,146.89 667.10,147.01 668.10,147.13 669.09,147.25 670.08,147.37 671.07,147.49 672.06,147.61 673.05,147.73 674.00,148.10" stroke="#adadad" stroke-width="2.4" stroke-dasharray="8.5 2.5 1.5 3.5"/><polyline points="57.00,61.80 58.64,61.88 60.25,61.97 61.86,62.06 63.46,62.15 65.07,62.24 66.68,62.34 68.29,62.43 69.90,62.52 71.52,62.61 73.13,62.70 74.74,62.79 76.35,62.87 77.97,62.96 79.58,63.05 81.20,63.14 82.82,63.22 84.43,63.31 86.05,63.39 87.67,63.48 89.29,63.56 90.91,63.64 92.53,63.72 94.15,63.80 95.77,63.88 97.39,63.96 99.01,64.04 100.63,64.11 102.25,64.18 103.87,64.25 105.50,64.32 107.12,64.39 108.74,64.46 110.37,64.52 111.99,64.58 113.62,64.64 115.24,64.70 116.86,64.76 118.49,64.81 120.11,64.86 121.74,64.91 123.36,64.96 124.99,65.00 126.62,65.04 128.24,65.08 129.87,65.12 131.49,65.15 133.12,65.18 134.75,65.21 136.37,65.24 138.00,65.26 139.62,65.28 141.25,65.29 142.87,65.30 144.50,65.31 146.13,65.32 147.75,65.32 149.38,65.32 151.00,65.31 152.63,65.31 154.25,65.29 155.88,65.28 157.50,65.26 159.13,65.23 160.75,65.20 162.37,65.17 164.00,65.14 165.62,65.10 167.24,65.05 168.86,65.00 170.49,64.95 172.11,64.89 173.73,64.83 175.35,64.76 176.97,64.69 178.59,64.62 180.21,64.53 181.83,64.45 183.45,64.36 185.07,64.26 186.68,64.16 188.30,64.05 189.92,63.94 191.53,63.83 193.15,63.70 194.76,63.58 196.37,63.44 197.99,63.30 199.60,63.16 201.21,63.01 202.82,62.86 204.43,62.69 206.04,62.53 207.65,62.35 209.26,62.17 210.87,61.99 212.47,61.80 214.08,61.60 215.68,61.39 217.29,61.18 218.89,60.97 220.49,60.74 222.09,60.51 223.69,60.28 225.29,60.03 226.89,59.78 228.49,59.53 230.09,59.27 231.68,59.00 233.28,58.73 234.87,58.45 236.46,58.16 238.06,57.87 239.65,57.58 241.24,57.28 242.83,56.98 244.42,56.67 246.01,56.35 247.60,56.04 249.19,55.71 250.77,55.39 252.36,55.06 253.95,54.72 255.53,54.39 257.12,54.04 258.70,53.70 260.29,53.35 261.87,53.00 263.45,52.65 265.04,52.29 266.62,51.93 268.20,51.57 269.78,51.20 271.37,50.84 272.95,50.47 274.53,50.09 276.11,49.72 277.69,49.35 279.27,48.97 280.85,48.59 282.43,48.21 284.01,47.83 285.59,47.45 287.17,47.07 288.75,46.69 290.33,46.30 291.91,45.92 293.48,45.54 295.06,45.15 296.64,44.77 298.22,44.39 299.80,44.01 301.38,43.64 302.96,43.26 304.54,42.89 306.12,42.51 307.70,42.15 309.29,41.78 310.87,41.42 312.45,41.06 314.03,40.70 315.62,40.35 317.20,40.00 318.78,39.66 320.37,39.32 321.96,38.98 323.54,38.65 325.13,38.33 326.72,38.01 328.31,37.70 329.90,37.39 331.49,37.09 333.08,36.79 334.67,36.51 336.26,36.23 337.86,35.95 339.45,35.69 341.05,35.43 342.65,35.18 344.24,34.94 345.84,34.71 347.44,34.49 349.05,34.27 350.65,34.06 352.25,33.87 353.86,33.68 355.46,33.50 357.07,33.32 358.68,33.16 360.29,33.00 361.90,32.85 363.51,32.71 365.12,32.58 366.73,32.46 368.34,32.34 369.96,32.23 371.57,32.13 373.19,32.04 374.80,31.95 376.42,31.88 378.03,31.81 379.65,31.74 381.27,31.69 382.89,31.64 384.50,31.60 386.12,31.57 387.74,31.54 389.36,31.52 390.98,31.51 392.60,31.51 394.22,31.51 395.84,31.52 397.46,31.54 399.08,31.56 400.70,31.59 402.32,31.63 403.94,31.67 405.56,31.72 407.18,31.78 408.80,31.84 410.42,31.91 412.03,31.99 413.65,32.07 415.27,32.16 416.89,32.26 418.51,32.36 420.13,32.46 421.74,32.57 423.36,32.69 424.98,32.81 426.59,32.94 428.21,33.07 429.83,33.21 431.44,33.34 433.06,33.49 434.67,33.63 436.29,33.78 437.90,33.94 439.52,34.09 441.13,34.25 442.75,34.42 444.36,34.58 445.98,34.74 447.59,34.91 449.20,35.08 450.82,35.25 452.43,35.43 454.04,35.60 455.66,35.78 457.27,35.95 458.88,36.13 460.49,36.31 462.10,36.49 463.72,36.67 465.33,36.85 466.94,37.03 468.55,37.22 470.16,37.40 471.78,37.58 473.39,37.77 475.00,37.95 476.61,38.13 478.22,38.32 479.83,38.50 481.45,38.68 483.06,38.86 484.67,39.04 486.28,39.22 487.89,39.40 489.51,39.58 491.12,39.76 492.73,39.94 494.34,40.11 495.96,40.29 497.57,40.46 499.18,40.63 500.79,40.81 502.41,40.98 504.02,41.14 505.63,41.31 507.25,41.48 508.86,41.64 510.47,41.80 512.09,41.97 513.70,42.12 515.31,42.28 516.93,42.44 518.54,42.59 520.16,42.74 521.77,42.89 523.38,43.04 525.00,43.18 526.61,43.33 528.23,43.47 529.84,43.61 531.46,43.74 533.07,43.87 534.69,44.01 536.30,44.13 537.92,44.26 539.53,44.38 541.15,44.50 542.76,44.62 544.38,44.73 546.00,44.85 547.61,44.95 549.23,45.06 550.85,45.16 552.46,45.26 554.08,45.35 555.70,45.45 557.31,45.54 558.93,45.62 560.55,45.70 562.17,45.78 563.78,45.86 565.40,45.93 567.02,45.99 568.64,46.06 570.26,46.12 571.88,46.17 573.50,46.22 575.11,46.27 576.73,46.31 578.35,46.35 579.97,46.39 581.59,46.42 583.21,46.45 584.83,46.47 586.45,46.49 588.07,46.50 589.69,46.51 591.32,46.52 592.94,46.52 594.56,46.52 596.18,46.52 597.80,46.51 599.42,46.50 601.04,46.49 602.66,46.47 604.29,46.45 605.91,46.43 607.53,46.40 609.15,46.37 610.77,46.34 612.40,46.31 614.02,46.27 615.64,46.23 617.26,46.19 618.88,46.15 620.51,46.10 622.13,46.06 623.75,46.01 625.37,45.96 627.00,45.90 628.62,45.85 630.24,45.79 631.86,45.73 633.48,45.67 635.11,45.61 636.73,45.55 638.35,45.48 639.97,45.42 641.59,45.35 643.21,45.28 644.84,45.21 646.46,45.14 648.08,45.07 649.70,45.00 651.32,44.93 652.94,44.86 654.56,44.78 656.18,44.71 657.80,44.64 659.43,44.56 661.05,44.49 662.67,44.42 664.29,44.34 665.91,44.27 667.52,44.20 669.14,44.12 670.76,44.05 672.38,43.98 674.00,44.00" stroke="#000" stroke-width="2.5" stroke-dasharray="8 8"/><polyline points="57.00,48.40 58.39,48.28 59.80,48.24 61.22,48.20 62.63,48.15 64.05,48.11 65.46,48.06 66.87,48.01 68.28,47.95 69.70,47.90 71.11,47.84 72.52,47.78 73.93,47.72 75.34,47.66 76.75,47.60 78.16,47.53 79.57,47.46 80.98,47.39 82.39,47.32 83.80,47.25 85.20,47.18 86.61,47.10 88.02,47.02 89.43,46.94 90.83,46.86 92.24,46.78 93.65,46.69 95.05,46.60 96.46,46.52 97.87,46.43 99.27,46.34 100.68,46.24 102.08,46.15 103.49,46.05 104.89,45.95 106.30,45.86 107.70,45.75 109.10,45.65 110.51,45.55 111.91,45.44 113.32,45.34 114.72,45.23 116.12,45.12 117.53,45.01 118.93,44.90 120.33,44.78 121.73,44.67 123.14,44.55 124.54,44.43 125.94,44.32 127.34,44.20 128.74,44.07 130.15,43.95 131.55,43.83 132.95,43.70 134.35,43.57 135.75,43.45 137.15,43.32 138.55,43.19 139.95,43.06 141.35,42.92 142.76,42.79 144.16,42.66 145.56,42.52 146.96,42.38 148.36,42.24 149.76,42.10 151.16,41.96 152.56,41.82 153.96,41.68 155.36,41.54 156.76,41.39 158.16,41.25 159.56,41.10 160.96,40.95 162.36,40.81 163.76,40.66 165.16,40.51 166.56,40.36 167.96,40.20 169.36,40.05 170.77,39.90 172.17,39.74 173.57,39.59 174.97,39.43 176.37,39.27 177.77,39.12 179.17,38.96 180.57,38.80 181.97,38.64 183.37,38.48 184.77,38.32 186.18,38.15 187.58,37.99 188.98,37.83 190.38,37.66 191.78,37.50 193.18,37.33 194.59,37.17 195.99,37.00 197.39,36.83 198.79,36.67 200.19,36.50 201.60,36.33 203.00,36.16 204.40,36.00 205.81,35.83 207.21,35.66 208.61,35.49 210.01,35.32 211.42,35.15 212.82,34.99 214.22,34.82 215.63,34.65 217.03,34.48 218.43,34.32 219.84,34.15 221.24,33.98 222.65,33.82 224.05,33.65 225.45,33.48 226.86,33.32 228.26,33.16 229.67,32.99 231.07,32.83 232.47,32.67 233.88,32.51 235.28,32.35 236.69,32.19 238.09,32.03 239.50,31.87 240.90,31.71 242.31,31.56 243.71,31.40 245.12,31.25 246.52,31.10 247.93,30.95 249.33,30.80 250.74,30.65 252.14,30.50 253.55,30.36 254.95,30.21 256.36,30.07 257.76,29.93 259.17,29.79 260.57,29.65 261.98,29.52 263.38,29.39 264.79,29.25 266.19,29.12 267.60,28.99 269.00,28.87 270.41,28.74 271.81,28.62 273.22,28.50 274.62,28.38 276.03,28.27 277.44,28.15 278.84,28.04 280.25,27.93 281.65,27.83 283.06,27.72 284.46,27.62 285.87,27.52 287.27,27.43 288.68,27.33 290.08,27.24 291.49,27.15 292.90,27.07 294.30,26.98 295.71,26.90 297.11,26.82 298.52,26.75 299.92,26.68 301.33,26.61 302.73,26.54 304.14,26.48 305.54,26.42 306.95,26.37 308.35,26.31 309.76,26.27 311.16,26.22 312.57,26.18 313.97,26.14 315.38,26.10 316.78,26.07 318.19,26.04 319.59,26.02 321.00,25.99 322.40,25.98 323.81,25.96 325.21,25.95 326.62,25.95 328.02,25.95 329.43,25.95 330.83,25.95 332.24,25.96 333.64,25.98 335.05,25.99 336.45,26.01 337.85,26.04 339.26,26.07 340.66,26.10 342.07,26.13 343.47,26.17 344.87,26.21 346.28,26.26 347.68,26.31 349.09,26.36 350.49,26.42 351.89,26.48 353.30,26.54 354.70,26.61 356.10,26.68 357.51,26.75 358.91,26.82 360.31,26.90 361.72,26.99 363.12,27.07 364.52,27.16 365.93,27.25 367.33,27.34 368.73,27.44 370.13,27.54 371.54,27.64 372.94,27.75 374.34,27.86 375.74,27.97 377.15,28.08 378.55,28.20 379.95,28.32 381.35,28.44 382.75,28.57 384.16,28.70 385.56,28.83 386.96,28.96 388.36,29.09 389.76,29.23 391.16,29.37 392.56,29.51 393.96,29.66 395.37,29.80 396.77,29.95 398.17,30.10 399.57,30.26 400.97,30.41 402.37,30.57 403.77,30.73 405.17,30.89 406.57,31.06 407.97,31.22 409.37,31.39 410.77,31.56 412.17,31.73 413.57,31.91 414.97,32.08 416.37,32.26 417.77,32.44 419.17,32.62 420.56,32.80 421.96,32.99 423.36,33.17 424.76,33.36 426.16,33.55 427.56,33.74 428.96,33.93 430.35,34.13 431.75,34.32 433.15,34.52 434.55,34.71 435.94,34.91 437.34,35.11 438.74,35.32 440.14,35.52 441.53,35.72 442.93,35.93 444.33,36.13 445.72,36.34 447.12,36.55 448.52,36.76 449.91,36.97 451.31,37.18 452.70,37.39 454.10,37.61 455.50,37.82 456.89,38.04 458.29,38.25 459.68,38.47 461.08,38.68 462.47,38.90 463.87,39.12 465.26,39.34 466.66,39.56 468.05,39.78 469.44,40.00 470.84,40.22 472.23,40.44 473.62,40.67 475.02,40.89 476.41,41.11 477.80,41.34 479.20,41.56 480.59,41.79 481.98,42.01 483.37,42.24 484.77,42.47 486.16,42.69 487.55,42.92 488.94,43.15 490.33,43.38 491.73,43.61 493.12,43.84 494.51,44.07 495.90,44.31 497.29,44.54 498.68,44.77 500.07,45.01 501.46,45.25 502.85,45.48 504.24,45.72 505.63,45.96 507.02,46.20 508.41,46.44 509.79,46.68 511.18,46.92 512.57,47.16 513.96,47.40 515.35,47.65 516.73,47.89 518.12,48.14 519.51,48.38 520.90,48.63 522.28,48.88 523.67,49.13 525.05,49.38 526.44,49.63 527.83,49.88 529.21,50.14 530.60,50.39 531.98,50.65 533.37,50.90 534.75,51.16 536.13,51.42 537.52,51.68 538.90,51.94 540.29,52.20 541.67,52.46 543.05,52.73 544.43,52.99 545.82,53.26 547.20,53.53 548.58,53.80 549.96,54.07 551.34,54.34 552.72,54.61 554.10,54.88 555.48,55.16 556.86,55.43 558.24,55.71 559.62,55.99 561.00,56.27 562.38,56.55 563.76,56.83 565.14,57.12 566.52,57.40 567.90,57.69 569.27,57.98 570.65,58.26 572.03,58.55 573.40,58.85 574.78,59.14 576.16,59.43 577.53,59.73 578.91,60.03 580.28,60.33 581.66,60.63 583.03,60.93 584.40,61.23 585.78,61.54 587.15,61.84 588.52,62.15 589.90,62.46 591.27,62.77 592.64,63.08 594.01,63.39 595.38,63.71 596.76,64.03 598.13,64.35 599.50,64.67 600.87,64.99 602.24,65.31 603.61,65.64 604.97,65.96 606.34,66.29 607.71,66.62 609.08,66.95 610.45,67.28 611.81,67.62 613.18,67.96 614.55,68.29 615.91,68.63 617.28,68.98 618.64,69.32 620.01,69.67 621.37,70.01 622.74,70.36 624.10,70.71 625.46,71.06 626.83,71.42 628.19,71.77 629.55,72.13 630.91,72.49 632.27,72.85 633.64,73.22 635.00,73.58 636.36,73.95 637.72,74.32 639.08,74.69 640.43,75.07 641.79,75.44 643.15,75.82 644.51,76.20 645.87,76.58 647.22,76.96 648.58,77.35 649.94,77.73 651.29,78.12 652.65,78.51 654.00,78.91 655.36,79.30 656.71,79.70 658.06,80.10 659.42,80.50 660.77,80.91 662.12,81.31 663.47,81.72 664.82,82.13 666.18,82.54 667.53,82.96 668.88,83.37 670.22,83.79 671.57,84.21 672.92,84.64 674.00,85.80" stroke="#000" stroke-width="2.5" stroke-dasharray="8.5 2.5 1.5 3.5"/><polyline points="57.00,61.80 58.37,61.87 59.61,61.99 60.85,62.10 62.09,62.21 63.33,62.32 64.57,62.43 65.81,62.53 67.05,62.63 68.30,62.73 69.54,62.83 70.78,62.92 72.03,63.01 73.27,63.10 74.52,63.18 75.76,63.26 77.01,63.35 78.26,63.42 79.50,63.50 80.75,63.58 82.00,63.65 83.25,63.72 84.50,63.79 85.75,63.86 87.00,63.92 88.25,63.99 89.50,64.05 90.75,64.11 92.00,64.17 93.25,64.22 94.50,64.28 95.75,64.34 97.01,64.39 98.26,64.44 99.51,64.49 100.77,64.54 102.02,64.59 103.27,64.64 104.53,64.69 105.78,64.73 107.04,64.78 108.29,64.82 109.55,64.87 110.80,64.91 112.06,64.95 113.31,65.00 114.57,65.04 115.82,65.08 117.08,65.12 118.34,65.16 119.59,65.20 120.85,65.24 122.11,65.28 123.36,65.32 124.62,65.36 125.88,65.40 127.13,65.44 128.39,65.48 129.65,65.52 130.91,65.57 132.16,65.61 133.42,65.65 134.68,65.69 135.93,65.73 137.19,65.78 138.45,65.82 139.71,65.87 140.96,65.91 142.22,65.96 143.48,66.01 144.74,66.05 145.99,66.10 147.25,66.15 148.51,66.20 149.77,66.26 151.02,66.31 152.28,66.36 153.54,66.42 154.79,66.48 156.05,66.54 157.31,66.60 158.56,66.66 159.82,66.72 161.08,66.79 162.33,66.86 163.59,66.93 164.84,67.00 166.10,67.07 167.35,67.14 168.61,67.22 169.86,67.30 171.12,67.38 172.37,67.46 173.63,67.55 174.88,67.64 176.13,67.73 177.39,67.82 178.64,67.92 179.89,68.01 181.14,68.11 182.40,68.22 183.65,68.32 184.90,68.43 186.15,68.54 187.40,68.66 188.65,68.77 189.90,68.90 191.15,69.02 192.40,69.15 193.65,69.28 194.90,69.41 196.14,69.54 197.39,69.68 198.64,69.83 199.89,69.97 201.13,70.12 202.38,70.28 203.62,70.44 204.87,70.60 206.11,70.76 207.36,70.93 208.60,71.10 209.84,71.28 211.08,71.46 212.33,71.65 213.57,71.83 214.81,72.03 216.05,72.22 217.29,72.43 218.53,72.63 219.77,72.84 221.00,73.06 222.24,73.28 223.48,73.50 224.71,73.73 225.95,73.96 227.18,74.20 228.42,74.44 229.65,74.69 230.88,74.94 232.12,75.20 233.35,75.47 234.58,75.73 235.81,76.01 237.04,76.28 238.26,76.57 239.49,76.86 240.72,77.15 241.94,77.45 243.17,77.76 244.39,78.07 245.61,78.39 246.83,78.71 248.05,79.04 249.27,79.37 250.48,79.71 251.70,80.06 252.91,80.41 254.12,80.77 255.33,81.13 256.53,81.50 257.74,81.88 258.94,82.26 260.13,82.65 261.33,83.05 262.52,83.45 263.71,83.86 264.90,84.27 266.09,84.69 267.27,85.12 268.45,85.56 269.62,86.00 270.79,86.45 271.96,86.91 273.13,87.37 274.29,87.84 275.45,88.32 276.60,88.81 277.75,89.30 278.90,89.80 280.04,90.31 281.18,90.82 282.31,91.34 283.44,91.87 284.56,92.41 285.68,92.96 286.80,93.51 287.91,94.07 289.02,94.64 290.12,95.22 291.22,95.80 292.31,96.39 293.39,96.99 294.47,97.60 295.55,98.22 296.62,98.85 297.68,99.48 298.74,100.12 299.80,100.77 300.84,101.43 301.89,102.10 302.92,102.78 303.95,103.47 304.97,104.16 305.99,104.86 307.00,105.58 308.01,106.30 309.00,107.03 309.99,107.77 310.98,108.52 311.96,109.27 312.93,110.04 313.89,110.82 314.85,111.61 315.79,112.40 316.74,113.21 317.67,114.02 318.60,114.85 319.52,115.68 320.43,116.52 321.33,117.38 322.23,118.24 323.12,119.11 324.00,120.00 324.87,120.89 325.73,121.80 326.59,122.71 327.43,123.63 328.27,124.57 329.10,125.51 329.92,126.47 330.74,127.44 331.54,128.41 332.33,129.40 333.12,130.40 333.89,131.41 334.66,132.43 335.42,133.46 336.17,134.50 336.91,135.55 337.63,136.61 338.35,137.69 339.06,138.77 339.76,139.87 340.45,140.98 341.13,142.10 341.80,143.23 342.46,144.37 343.11,145.53 343.75,146.69 344.37,147.87 344.90,148.60 353.20,161.00 361.40,171.60 369.60,177.40 377.80,173.30 386.10,162.50 387.04,161.84 387.55,160.89 388.06,159.93 388.58,158.98 389.10,158.02 389.63,157.07 390.16,156.12 390.70,155.18 391.24,154.24 391.79,153.29 392.34,152.36 392.89,151.42 393.45,150.49 394.01,149.55 394.58,148.63 395.15,147.70 395.73,146.78 396.31,145.86 396.90,144.94 397.49,144.03 398.09,143.12 398.69,142.22 399.30,141.32 399.91,140.42 400.52,139.52 401.14,138.63 401.77,137.75 402.40,136.87 403.04,135.99 403.68,135.11 404.33,134.24 404.98,133.38 405.64,132.52 406.30,131.66 406.97,130.81 407.64,129.96 408.32,129.12 409.01,128.28 409.70,127.45 410.39,126.63 411.09,125.81 411.80,124.99 412.51,124.18 413.23,123.37 413.96,122.58 414.69,121.78 415.42,120.99 416.17,120.21 416.92,119.44 417.67,118.67 418.43,117.90 419.20,117.15 419.97,116.40 420.75,115.65 421.53,114.91 422.32,114.18 423.12,113.46 423.92,112.74 424.73,112.03 425.55,111.33 426.37,110.63 427.20,109.94 428.04,109.26 428.88,108.58 429.72,107.91 430.57,107.25 431.43,106.59 432.29,105.94 433.16,105.30 434.04,104.66 434.91,104.03 435.80,103.40 436.69,102.78 437.58,102.17 438.48,101.57 439.38,100.97 440.29,100.37 441.20,99.78 442.11,99.20 443.03,98.63 443.96,98.06 444.89,97.49 445.82,96.93 446.75,96.38 447.69,95.83 448.64,95.29 449.58,94.76 450.53,94.23 451.49,93.70 452.44,93.18 453.40,92.67 454.37,92.16 455.33,91.66 456.30,91.16 457.27,90.67 458.25,90.18 459.22,89.70 460.20,89.22 461.18,88.75 462.16,88.29 463.15,87.82 464.14,87.37 465.12,86.91 466.12,86.47 467.11,86.02 468.10,85.59 469.10,85.15 470.09,84.73 471.09,84.30 472.09,83.88 473.09,83.47 474.10,83.06 475.10,82.65 476.11,82.25 477.12,81.86 478.12,81.46 479.13,81.08 480.15,80.69 481.16,80.32 482.17,79.94 483.19,79.57 484.21,79.21 485.23,78.85 486.25,78.49 487.27,78.14 488.29,77.79 489.31,77.44 490.34,77.11 491.37,76.77 492.39,76.44 493.42,76.11 494.45,75.79 495.49,75.47 496.52,75.16 497.55,74.85 498.59,74.54 499.62,74.24 500.66,73.94 501.70,73.64 502.74,73.35 503.78,73.07 504.82,72.79 505.87,72.51 506.91,72.23 507.96,71.96 509.00,71.69 510.05,71.43 511.10,71.17 512.15,70.92 513.20,70.66 514.25,70.42 515.30,70.17 516.36,69.93 517.41,69.69 518.47,69.46 519.52,69.23 520.58,69.00 521.64,68.78 522.70,68.56 523.76,68.35 524.82,68.14 525.88,67.93 526.94,67.72 528.01,67.52 529.07,67.32 530.13,67.13 531.20,66.93 532.27,66.75 533.33,66.56 534.40,66.38 535.47,66.20 536.54,66.03 537.61,65.86 538.68,65.69 539.75,65.52 540.83,65.36 541.90,65.20 542.97,65.04 544.05,64.89 545.12,64.74 546.20,64.60 547.27,64.45 548.35,64.31 549.43,64.17 550.51,64.04 551.59,63.91 552.66,63.78 553.74,63.65 554.82,63.53 555.90,63.41 556.99,63.29 558.07,63.18 559.15,63.07 560.23,62.96 561.31,62.85 562.40,62.75 563.48,62.65 564.57,62.55 565.65,62.45 566.73,62.36 567.82,62.27 568.91,62.18 569.99,62.10 571.08,62.02 572.16,61.94 573.25,61.86 574.34,61.79 575.43,61.71 576.51,61.64 577.60,61.58 578.69,61.51 579.78,61.45 580.87,61.39 581.95,61.33 583.04,61.27 584.13,61.22 585.22,61.17 586.31,61.12 587.40,61.07 588.49,61.03 589.58,60.99 590.67,60.95 591.76,60.91 592.85,60.87 593.94,60.84 595.03,60.81 596.12,60.78 597.21,60.75 598.30,60.72 599.39,60.70 600.48,60.68 601.57,60.66 602.66,60.64 603.75,60.62 604.84,60.61 605.93,60.60 607.02,60.59 608.11,60.58 609.20,60.57 610.29,60.57 611.38,60.56 612.47,60.56 613.55,60.56 614.64,60.56 615.73,60.57 616.82,60.57 617.91,60.58 618.99,60.59 620.08,60.60 621.17,60.61 622.26,60.62 623.34,60.63 624.43,60.65 625.51,60.67 626.60,60.68 627.69,60.70 628.77,60.73 629.86,60.75 630.94,60.77 632.02,60.80 633.11,60.82 634.19,60.85 635.27,60.88 636.35,60.91 637.44,60.94 638.52,60.98 639.60,61.01 640.68,61.04 641.76,61.08 642.84,61.12 643.91,61.16 644.99,61.19 646.07,61.23 647.15,61.28 648.22,61.32 649.30,61.36 650.37,61.41 651.45,61.45 652.52,61.50 653.60,61.54 654.67,61.59 655.74,61.64 656.81,61.69 657.88,61.74 658.95,61.79 660.02,61.84 661.09,61.89 662.16,61.95 663.22,62.00 664.29,62.05 665.35,62.11 666.42,62.16 667.48,62.22 668.54,62.28 669.61,62.33 670.67,62.39 671.73,62.45 672.79,62.51 674.00,63.00" stroke="#000" stroke-width="2.5"/><polyline points="57.00,40.20 58.32,40.00 59.40,40.02 60.48,40.03 61.57,40.04 62.65,40.06 63.74,40.07 64.82,40.08 65.91,40.09 67.00,40.10 68.08,40.11 69.17,40.12 70.26,40.13 71.35,40.14 72.44,40.15 73.54,40.15 74.63,40.16 75.72,40.17 76.81,40.18 77.91,40.19 79.00,40.19 80.10,40.20 81.20,40.21 82.29,40.22 83.39,40.22 84.49,40.23 85.59,40.24 86.68,40.25 87.78,40.25 88.88,40.26 89.98,40.27 91.08,40.28 92.18,40.29 93.29,40.30 94.39,40.31 95.49,40.32 96.59,40.33 97.70,40.34 98.80,40.35 99.90,40.36 101.01,40.38 102.11,40.39 103.22,40.40 104.32,40.42 105.43,40.43 106.54,40.45 107.64,40.46 108.75,40.48 109.86,40.50 110.96,40.52 112.07,40.54 113.18,40.56 114.29,40.58 115.39,40.60 116.50,40.62 117.61,40.65 118.72,40.67 119.83,40.70 120.94,40.73 122.04,40.76 123.15,40.79 124.26,40.82 125.37,40.85 126.48,40.89 127.59,40.92 128.70,40.96 129.81,40.99 130.92,41.03 132.03,41.07 133.14,41.12 134.25,41.16 135.36,41.20 136.47,41.25 137.58,41.30 138.69,41.35 139.80,41.40 140.91,41.45 142.02,41.51 143.12,41.57 144.23,41.62 145.34,41.68 146.45,41.75 147.56,41.81 148.67,41.88 149.78,41.94 150.89,42.01 151.99,42.08 153.10,42.16 154.21,42.23 155.32,42.31 156.42,42.39 157.53,42.47 158.64,42.56 159.74,42.65 160.85,42.73 161.96,42.83 163.06,42.92 164.17,43.01 165.27,43.11 166.38,43.21 167.48,43.32 168.58,43.42 169.69,43.53 170.79,43.64 171.89,43.75 172.99,43.87 174.10,43.99 175.20,44.11 176.30,44.23 177.40,44.36 178.50,44.49 179.60,44.62 180.70,44.75 181.79,44.89 182.89,45.03 183.99,45.17 185.09,45.32 186.18,45.47 187.28,45.62 188.37,45.78 189.47,45.94 190.56,46.10 191.65,46.26 192.75,46.43 193.84,46.60 194.93,46.77 196.02,46.95 197.11,47.13 198.20,47.32 199.29,47.50 200.38,47.70 201.46,47.89 202.55,48.09 203.64,48.29 204.72,48.49 205.80,48.70 206.89,48.91 207.97,49.13 209.05,49.35 210.13,49.57 211.21,49.80 212.29,50.03 213.37,50.26 214.45,50.50 215.52,50.74 216.60,50.98 217.67,51.23 218.75,51.49 219.82,51.74 220.89,52.01 221.96,52.27 223.03,52.54 224.10,52.81 225.17,53.09 226.24,53.37 227.30,53.66 228.37,53.95 229.43,54.24 230.49,54.54 231.56,54.84 232.62,55.15 233.68,55.46 234.73,55.78 235.79,56.10 236.85,56.42 237.90,56.75 238.96,57.08 240.01,57.42 241.06,57.77 242.11,58.11 243.15,58.47 244.20,58.82 245.24,59.19 246.29,59.55 247.33,59.93 248.36,60.30 249.40,60.68 250.43,61.07 251.47,61.46 252.50,61.86 253.52,62.26 254.55,62.67 255.57,63.08 256.59,63.50 257.61,63.93 258.62,64.35 259.64,64.79 260.65,65.23 261.66,65.67 262.66,66.13 263.66,66.58 264.66,67.04 265.66,67.51 266.65,67.99 267.64,68.47 268.63,68.95 269.61,69.44 270.59,69.94 271.57,70.44 272.54,70.95 273.51,71.47 274.48,71.99 275.44,72.52 276.40,73.05 277.35,73.59 278.31,74.14 279.25,74.69 280.20,75.25 281.14,75.81 282.07,76.39 283.01,76.96 283.93,77.55 284.86,78.14 285.78,78.74 286.69,79.34 287.60,79.95 288.51,80.57 289.41,81.20 290.31,81.83 291.20,82.46 292.09,83.11 292.98,83.76 293.85,84.42 294.73,85.08 295.60,85.75 296.46,86.43 297.32,87.11 298.18,87.80 299.03,88.50 299.87,89.20 300.72,89.91 301.55,90.62 302.38,91.34 303.21,92.07 304.03,92.80 304.84,93.54 305.65,94.28 306.46,95.03 307.26,95.79 308.05,96.55 308.84,97.32 309.62,98.10 310.40,98.88 311.18,99.66 311.94,100.46 312.70,101.25 313.46,102.06 314.21,102.87 314.96,103.68 315.70,104.50 316.43,105.33 317.16,106.16 317.88,107.00 318.60,107.84 319.31,108.69 320.01,109.54 320.71,110.40 321.40,111.26 322.09,112.13 322.77,113.01 323.44,113.89 324.11,114.77 324.77,115.66 325.43,116.56 326.08,117.46 326.72,118.37 327.36,119.28 327.99,120.20 328.61,121.12 329.23,122.04 329.84,122.97 330.45,123.91 331.05,124.85 331.64,125.80 332.22,126.75 332.80,127.70 333.37,128.66 333.94,129.63 334.50,130.60 335.05,131.57 335.59,132.55 336.13,133.53 336.66,134.52 337.18,135.52 337.70,136.51 338.21,137.51 338.71,138.52 339.21,139.53 339.70,140.55 340.18,141.56 340.65,142.59 341.12,143.62 341.58,144.65 342.03,145.68 342.47,146.73 342.91,147.77 343.34,148.82 343.76,149.87 344.17,150.93 344.90,151.50 353.20,168.50 361.40,183.00 369.60,184.30 377.80,170.00 386.10,152.30 386.75,151.55 387.23,150.43 387.73,149.32 388.23,148.22 388.75,147.12 389.27,146.02 389.80,144.94 390.34,143.85 390.89,142.78 391.44,141.70 392.01,140.64 392.58,139.58 393.17,138.52 393.76,137.47 394.36,136.43 394.97,135.39 395.59,134.35 396.21,133.33 396.84,132.30 397.49,131.29 398.14,130.28 398.79,129.27 399.46,128.27 400.13,127.28 400.81,126.29 401.50,125.30 402.20,124.33 402.90,123.35 403.61,122.39 404.33,121.43 405.06,120.47 405.79,119.53 406.53,118.58 407.28,117.65 408.04,116.71 408.80,115.79 409.57,114.87 410.34,113.96 411.13,113.05 411.91,112.15 412.71,111.25 413.51,110.36 414.32,109.48 415.14,108.60 415.96,107.73 416.79,106.86 417.62,106.00 418.46,105.15 419.31,104.30 420.16,103.46 421.02,102.62 421.88,101.79 422.75,100.97 423.63,100.15 424.51,99.34 425.40,98.54 426.29,97.74 427.19,96.94 428.09,96.16 429.00,95.38 429.92,94.60 430.84,93.83 431.76,93.07 432.69,92.32 433.63,91.57 434.57,90.83 435.51,90.09 436.46,89.36 437.41,88.64 438.37,87.92 439.34,87.21 440.30,86.50 441.27,85.81 442.25,85.11 443.23,84.43 444.22,83.75 445.21,83.08 446.20,82.41 447.20,81.75 448.20,81.10 449.20,80.46 450.21,79.82 451.22,79.18 452.24,78.56 453.26,77.94 454.28,77.32 455.31,76.72 456.34,76.12 457.37,75.53 458.41,74.94 459.45,74.36 460.49,73.79 461.54,73.22 462.59,72.66 463.64,72.11 464.70,71.56 465.75,71.03 466.81,70.49 467.88,69.97 468.94,69.45 470.01,68.94 471.08,68.43 472.15,67.93 473.23,67.44 474.31,66.95 475.39,66.47 476.47,66.00 477.56,65.53 478.65,65.07 479.74,64.62 480.83,64.17 481.93,63.73 483.03,63.29 484.13,62.86 485.23,62.43 486.34,62.02 487.44,61.60 488.55,61.20 489.67,60.79 490.78,60.40 491.90,60.01 493.01,59.62 494.13,59.24 495.26,58.87 496.38,58.50 497.51,58.14 498.64,57.78 499.77,57.43 500.90,57.08 502.03,56.74 503.17,56.40 504.31,56.07 505.45,55.74 506.59,55.42 507.73,55.10 508.88,54.79 510.02,54.48 511.17,54.18 512.32,53.88 513.47,53.59 514.63,53.30 515.78,53.02 516.94,52.74 518.10,52.46 519.26,52.19 520.42,51.93 521.58,51.66 522.75,51.41 523.91,51.15 525.08,50.90 526.25,50.66 527.42,50.42 528.59,50.18 529.76,49.94 530.94,49.72 532.11,49.49 533.29,49.27 534.47,49.05 535.64,48.83 536.82,48.62 538.01,48.42 539.19,48.21 540.37,48.01 541.56,47.82 542.74,47.62 543.93,47.43 545.11,47.25 546.30,47.06 547.49,46.88 548.68,46.70 549.87,46.53 551.06,46.36 552.26,46.19 553.45,46.03 554.64,45.86 555.84,45.70 557.03,45.55 558.23,45.39 559.43,45.24 560.63,45.09 561.82,44.95 563.02,44.80 564.22,44.66 565.42,44.52 566.62,44.39 567.82,44.25 569.02,44.12 570.23,43.99 571.43,43.87 572.63,43.74 573.83,43.62 575.04,43.50 576.24,43.38 577.44,43.26 578.65,43.15 579.85,43.03 581.06,42.92 582.26,42.81 583.47,42.70 584.67,42.60 585.88,42.49 587.08,42.39 588.29,42.29 589.49,42.18 590.70,42.09 591.90,41.99 593.11,41.89 594.31,41.80 595.52,41.70 596.72,41.61 597.93,41.52 599.13,41.42 600.34,41.33 601.54,41.24 602.75,41.16 603.95,41.07 605.15,40.98 606.36,40.90 607.56,40.81 608.76,40.73 609.96,40.64 611.17,40.56 612.37,40.47 613.57,40.39 614.77,40.31 615.97,40.23 617.17,40.15 618.36,40.06 619.56,39.98 620.76,39.90 621.96,39.82 623.15,39.74 624.35,39.66 625.54,39.57 626.74,39.49 627.93,39.41 629.12,39.33 630.31,39.25 631.50,39.16 632.69,39.08 633.88,39.00 635.07,38.91 636.25,38.83 637.44,38.74 638.63,38.66 639.81,38.57 640.99,38.48 642.17,38.39 643.35,38.31 644.53,38.22 645.71,38.12 646.89,38.03 648.06,37.94 649.24,37.85 650.41,37.75 651.58,37.65 652.75,37.56 653.92,37.46 655.09,37.36 656.26,37.26 657.42,37.15 658.58,37.05 659.75,36.94 660.91,36.83 662.07,36.72 663.22,36.61 664.38,36.50 665.53,36.38 666.69,36.27 667.84,36.15 668.99,36.03 670.14,35.91 671.28,35.78 672.43,35.65 674.00,35.50" stroke="#000" stroke-width="2.6" stroke-dasharray="2 2"/></g><g stroke="#666" stroke-width="1.5"><line x1="98.1" y1="270.6" x2="98.1" y2="264.6"/><line x1="98.1" y1="6.2" x2="98.1" y2="12.2"/><line x1="180.4" y1="270.6" x2="180.4" y2="264.6"/><line x1="180.4" y1="6.2" x2="180.4" y2="12.2"/><line x1="262.7" y1="270.6" x2="262.7" y2="264.6"/><line x1="262.7" y1="6.2" x2="262.7" y2="12.2"/><line x1="344.9" y1="270.6" x2="344.9" y2="264.6"/><line x1="344.9" y1="6.2" x2="344.9" y2="12.2"/><line x1="427.2" y1="270.6" x2="427.2" y2="264.6"/><line x1="427.2" y1="6.2" x2="427.2" y2="12.2"/><line x1="509.5" y1="270.6" x2="509.5" y2="264.6"/><line x1="509.5" y1="6.2" x2="509.5" y2="12.2"/><line x1="591.7" y1="270.6" x2="591.7" y2="264.6"/><line x1="591.7" y1="6.2" x2="591.7" y2="12.2"/><line x1="57.0" y1="44.0" x2="63.0" y2="44.0"/><line x1="674.0" y1="44.0" x2="668.0" y2="44.0"/><line x1="57.0" y1="81.7" x2="63.0" y2="81.7"/><line x1="674.0" y1="81.7" x2="668.0" y2="81.7"/><line x1="57.0" y1="119.5" x2="63.0" y2="119.5"/><line x1="674.0" y1="119.5" x2="668.0" y2="119.5"/><line x1="57.0" y1="157.3" x2="63.0" y2="157.3"/><line x1="674.0" y1="157.3" x2="668.0" y2="157.3"/><line x1="57.0" y1="195.1" x2="63.0" y2="195.1"/><line x1="674.0" y1="195.1" x2="668.0" y2="195.1"/><line x1="57.0" y1="232.8" x2="63.0" y2="232.8"/><line x1="674.0" y1="232.8" x2="668.0" y2="232.8"/></g><rect x="57.0" y="6.2" width="617.0" height="264.40000000000003" fill="none" stroke="#5a5a5a" stroke-width="1.4"/><line x1="509.5" y1="6.9" x2="509.5" y2="271.40000000000003" stroke="#dc2828" stroke-width="1.5"/><rect x="580.6" y="145.9" width="82.69999999999993" height="113.20000000000002" fill="#fff" stroke="#333" stroke-width="1.2"/><line x1="584.3" y1="161.10" x2="624.3" y2="161.10" stroke="#000" stroke-width="2.6" stroke-dasharray="2 2" /><g font-size="16.3"><text x="627.7" y="164.90">|</text><text x="631.9" y="164.90" font-style="italic">S</text><text x="640.6" y="171.40" font-size="13">11</text><text x="654" y="164.90">|</text></g><line x1="584.3" y1="188.77" x2="624.3" y2="188.77" stroke="#000" stroke-width="2.5" stroke-dasharray="8 8" /><g font-size="16.3"><text x="627.7" y="192.57">|</text><text x="631.9" y="192.57" font-style="italic">S</text><text x="640.6" y="199.07" font-size="13">21</text><text x="654" y="192.57">|</text></g><line x1="584.3" y1="216.44" x2="624.3" y2="216.44" stroke="#000" stroke-width="2.5" stroke-dasharray="8 8" /><g font-size="16.3"><text x="627.7" y="220.24">|</text><text x="631.9" y="220.24" font-style="italic">S</text><text x="640.6" y="226.74" font-size="13">31</text><text x="654" y="220.24">|</text></g><line x1="584.3" y1="244.11" x2="624.3" y2="244.11" stroke="#000" stroke-width="2.5" /><g font-size="16.3"><text x="627.7" y="247.91">|</text><text x="631.9" y="247.91" font-style="italic">S</text><text x="640.6" y="254.41" font-size="13">41</text><text x="654" y="247.91">|</text></g><g font-size="16.8"><text transform="translate(97.33,294.4) scale(1.14,1)" text-anchor="middle">0.8</text><text transform="translate(179.60,294.4) scale(1.14,1)" text-anchor="middle">1</text><text transform="translate(261.87,294.4) scale(1.14,1)" text-anchor="middle">1.2</text><text transform="translate(344.13,294.4) scale(1.14,1)" text-anchor="middle">1.4</text><text transform="translate(426.40,294.4) scale(1.14,1)" text-anchor="middle">1.6</text><text transform="translate(508.67,294.4) scale(1.14,1)" text-anchor="middle">1.8</text><text transform="translate(590.93,294.4) scale(1.14,1)" text-anchor="middle">2</text><text transform="translate(673.20,294.4) scale(1.14,1)" text-anchor="middle">2.2</text><text transform="translate(49.5,12.10) scale(1.14,1)" text-anchor="end">0</text><text transform="translate(49.5,49.87) scale(1.14,1)" text-anchor="end">-5</text><text transform="translate(49.5,87.64) scale(1.14,1)" text-anchor="end">-10</text><text transform="translate(49.5,125.41) scale(1.14,1)" text-anchor="end">-15</text><text transform="translate(49.5,163.19) scale(1.14,1)" text-anchor="end">-20</text><text transform="translate(49.5,200.96) scale(1.14,1)" text-anchor="end">-25</text><text transform="translate(49.5,238.73) scale(1.14,1)" text-anchor="end">-30</text><text transform="translate(49.5,276.50) scale(1.14,1)" text-anchor="end">-35</text></g><text transform="translate(362.9,317.5) scale(1.05,1)" font-size="19.5" text-anchor="middle">Frequency [GHz]</text><text transform="translate(15.5,139.4) rotate(-90) scale(1.05,1)" font-size="19.4" text-anchor="middle">S-parameters [dB]</text>
</svg></body></html>
